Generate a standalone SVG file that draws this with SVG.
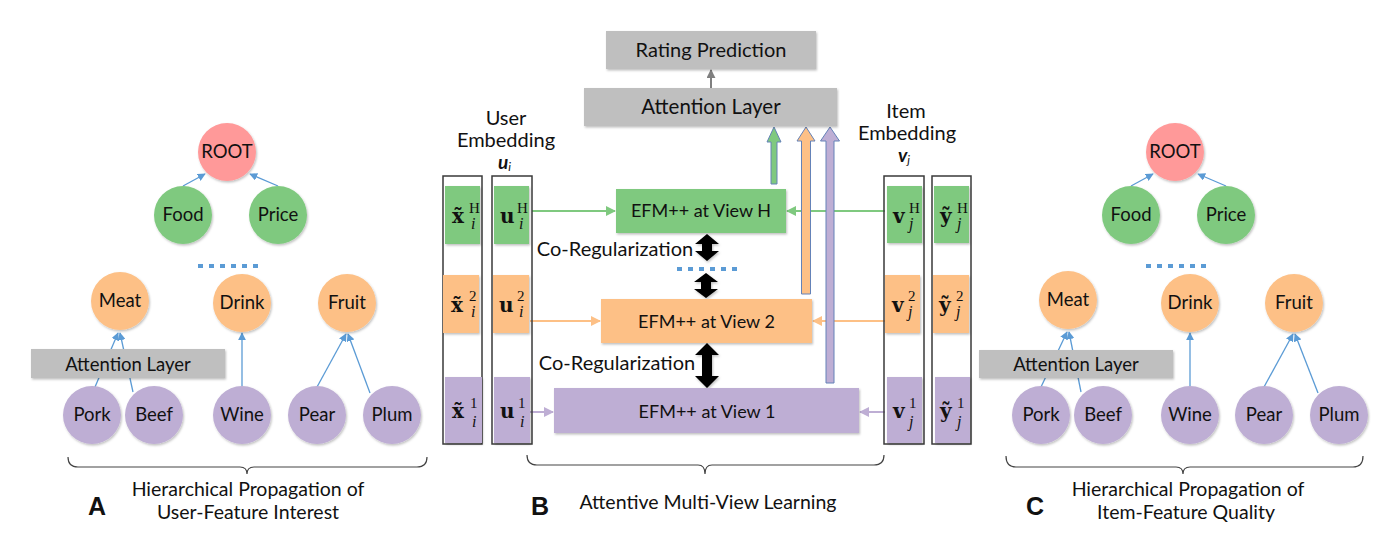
<svg xmlns="http://www.w3.org/2000/svg" width="1381" height="534" viewBox="0 0 1381 534">
<defs>
<filter id="sh" x="-20%" y="-20%" width="140%" height="140%">
<feDropShadow dx="1" dy="1.5" stdDeviation="1.2" flood-color="#000" flood-opacity="0.25"/>
</filter>
<marker id="mb" viewBox="0 0 10 10" refX="9" refY="5" markerWidth="8" markerHeight="8" markerUnits="userSpaceOnUse" orient="auto"><path d="M0,0 L10,5 L0,10 Z" fill="#5B9BD5"/></marker>
<marker id="mg" viewBox="0 0 10 10" refX="9" refY="5" markerWidth="11" markerHeight="10" markerUnits="userSpaceOnUse" orient="auto"><path d="M0,0 L10,5 L0,10 Z" fill="#7FC97F"/></marker>
<marker id="mo" viewBox="0 0 10 10" refX="9" refY="5" markerWidth="11" markerHeight="10" markerUnits="userSpaceOnUse" orient="auto"><path d="M0,0 L10,5 L0,10 Z" fill="#FDC086"/></marker>
<marker id="mp" viewBox="0 0 10 10" refX="9" refY="5" markerWidth="11" markerHeight="10" markerUnits="userSpaceOnUse" orient="auto"><path d="M0,0 L10,5 L0,10 Z" fill="#BEAED4"/></marker>
<marker id="mk" viewBox="0 0 10 10" refX="9" refY="5" markerWidth="9" markerHeight="9" markerUnits="userSpaceOnUse" orient="auto"><path d="M0,0 L10,5 L0,10 Z" fill="#7F7F7F"/></marker>
</defs>
<style>
.t{font-family:Lato,"Open Sans","Liberation Sans",sans-serif;fill:#111;text-anchor:middle}
.n{font-size:18.5px}
.cap{font-size:19.5px}
.pk{fill:#FF9999}
.gr{fill:#7FC97F}
.or{fill:#FDC086}
.pu{fill:#BEAED4}
.gy{fill:#BFBFBF}
.tree{stroke:#5B9BD5;stroke-width:1.3;fill:none;marker-end:url(#mb)}
.dots{stroke:#5B9BD5;stroke-width:4;stroke-dasharray:5 6;fill:none}
.brace{stroke:#444;stroke-width:1.2;fill:none}
.outer{fill:none;stroke:#3a3a3a;stroke-width:1.5}
.m{font-family:"DejaVu Serif","Liberation Serif",serif;font-weight:bold;font-size:20px;fill:#111}
.sup{font-family:"Liberation Serif",serif;font-size:15px;fill:#111}
.sub{font-family:"Liberation Serif",serif;font-style:italic;font-size:16px;fill:#111}
.blk{fill:#000}
</style>
<rect width="1381" height="534" fill="#fff"/>

<!-- ========== connectors ========== -->
<g id="connectors">
<line class="tree" x1="183" y1="186" x2="205" y2="174"/>
<line class="tree" x1="278" y1="186" x2="250" y2="174"/>
<line class="tree" x1="95" y1="387" x2="118" y2="333"/>
<line class="tree" x1="133" y1="392" x2="120" y2="333"/>
<line class="tree" x1="242" y1="386" x2="242" y2="333"/>
<line class="tree" x1="317" y1="387" x2="346" y2="334"/>
<line class="tree" x1="370" y1="393" x2="348" y2="334"/>
<line class="dots" x1="198" y1="266" x2="258" y2="266"/>
<line class="tree" x1="1131" y1="186" x2="1153" y2="174"/>
<line class="tree" x1="1226" y1="186" x2="1198" y2="174"/>
<line class="tree" x1="1041" y1="387" x2="1067" y2="332"/>
<line class="tree" x1="1081" y1="392" x2="1069" y2="332"/>
<line class="tree" x1="1190" y1="386" x2="1190" y2="333"/>
<line class="tree" x1="1264" y1="387" x2="1293" y2="334"/>
<line class="tree" x1="1318" y1="393" x2="1295" y2="334"/>
<line class="dots" x1="1146" y1="266" x2="1206" y2="266"/>
<line x1="711" y1="88" x2="711" y2="70" stroke="#7F7F7F" stroke-width="2" marker-end="url(#mk)"/>
<line x1="532" y1="211" x2="615" y2="211" stroke="#7FC97F" stroke-width="2" marker-end="url(#mg)"/>
<line x1="885" y1="211" x2="787" y2="211" stroke="#7FC97F" stroke-width="2" marker-end="url(#mg)"/>
<line x1="530" y1="321" x2="600" y2="321" stroke="#FDC086" stroke-width="2" marker-end="url(#mo)"/>
<line x1="885" y1="321" x2="813" y2="321" stroke="#FDC086" stroke-width="2" marker-end="url(#mo)"/>
<line x1="530" y1="412" x2="553" y2="412" stroke="#BEAED4" stroke-width="2" marker-end="url(#mp)"/>
<line x1="885" y1="412" x2="860" y2="412" stroke="#BEAED4" stroke-width="2" marker-end="url(#mp)"/>
<line class="dots" x1="677" y1="269" x2="737" y2="269"/>
<path d="M767,142 L774,127 L781,142 L777,142 L777,184 L771,184 L771,142 Z" fill="#7FC97F" stroke="#6482B8" stroke-width="1"/>
<path d="M797,141 L806,127 L815,141 L810.5,141 L810.5,294 L801.5,294 L801.5,141 Z" fill="#FDC086" stroke="#6482B8" stroke-width="1"/>
<path d="M820.5,141 L830,127 L839.5,141 L834,141 L834,383 L826,383 L826,141 Z" fill="#BEAED4" stroke="#6482B8" stroke-width="1"/>
<path class="blk" filter="url(#sh)" d="M707,234 L719,244 L712,244 L712,251 L719,251 L707,261 L695,251 L702,251 L702,244 L695,244 Z"/>
<path class="blk" filter="url(#sh)" d="M706,273 L718,282 L711,282 L711,289 L718,289 L706,298 L694,289 L701,289 L701,282 L694,282 Z"/>
<path class="blk" filter="url(#sh)" d="M707,343 L719,355 L712,355 L712,376 L719,376 L707,388 L695,376 L702,376 L702,355 L695,355 Z"/>
<path class="brace" d="M68,457 Q68,467 78,467 H240 Q247,467 247,474 Q247,467 254,467 H417 Q427,467 427,457"/>
<path class="brace" d="M527,455 Q527,465 537,465 H698 Q705,465 705,474 Q705,465 712,465 H874 Q884,465 884,455"/>
<path class="brace" d="M1006,456 Q1006,467 1016,467 H1176 Q1183,467 1183,474 Q1183,467 1190,467 H1353 Q1363,467 1363,456"/>
</g>

<!-- ========== Panel A ========== -->
<g id="A-root"><circle class="pk" cx="227" cy="152" r="29" filter="url(#sh)"/><text class="t n" x="227" y="158">ROOT</text></g>
<g id="A-food"><circle class="gr" cx="183" cy="215" r="29" filter="url(#sh)"/><text class="t n" x="183" y="221">Food</text></g>
<g id="A-price"><circle class="gr" cx="278" cy="215" r="29" filter="url(#sh)"/><text class="t n" x="278" y="221">Price</text></g>
<g id="A-meat"><circle class="or" cx="120" cy="301" r="29" filter="url(#sh)"/><text class="t n" x="120" y="307">Meat</text></g>
<g id="A-drink"><circle class="or" cx="242" cy="303" r="29" filter="url(#sh)"/><text class="t n" x="242" y="309">Drink</text></g>
<g id="A-fruit"><circle class="or" cx="347" cy="303" r="29" filter="url(#sh)"/><text class="t n" x="347" y="309">Fruit</text></g>
<g id="A-att"><rect class="gy" x="31" y="349" width="194" height="29" filter="url(#sh)"/><text class="t" x="128" y="371" font-size="18.5">Attention Layer</text></g>
<g id="A-pork"><circle class="pu" cx="92" cy="415" r="29" filter="url(#sh)"/><text class="t n" x="92" y="421">Pork</text></g>
<g id="A-beef"><circle class="pu" cx="154" cy="415" r="29" filter="url(#sh)"/><text class="t n" x="154" y="421">Beef</text></g>
<g id="A-wine"><circle class="pu" cx="242" cy="415" r="29" filter="url(#sh)"/><text class="t n" x="242" y="421">Wine</text></g>
<g id="A-pear"><circle class="pu" cx="317" cy="415" r="29" filter="url(#sh)"/><text class="t n" x="317" y="421">Pear</text></g>
<g id="A-plum"><circle class="pu" cx="392" cy="415" r="29" filter="url(#sh)"/><text class="t n" x="392" y="421">Plum</text></g>
<g id="A-caption">
<text class="t" x="97" y="515" font-size="25" font-weight="bold" style="font-family:'Liberation Sans',Arial,sans-serif">A</text>
<text class="t cap" x="248" y="496">Hierarchical Propagation of</text>
<text class="t cap" x="248" y="519">User-Feature Interest</text>
</g>

<!-- ========== Panel C ========== -->
<g id="C-root"><circle class="pk" cx="1175" cy="152" r="29" filter="url(#sh)"/><text class="t n" x="1175" y="158">ROOT</text></g>
<g id="C-food"><circle class="gr" cx="1131" cy="215" r="29" filter="url(#sh)"/><text class="t n" x="1131" y="221">Food</text></g>
<g id="C-price"><circle class="gr" cx="1226" cy="215" r="29" filter="url(#sh)"/><text class="t n" x="1226" y="221">Price</text></g>
<g id="C-meat"><circle class="or" cx="1068" cy="300" r="29" filter="url(#sh)"/><text class="t n" x="1068" y="306">Meat</text></g>
<g id="C-drink"><circle class="or" cx="1190" cy="303" r="29" filter="url(#sh)"/><text class="t n" x="1190" y="309">Drink</text></g>
<g id="C-fruit"><circle class="or" cx="1294" cy="303" r="29" filter="url(#sh)"/><text class="t n" x="1294" y="309">Fruit</text></g>
<g id="C-att"><rect class="gy" x="979" y="350" width="194" height="28" filter="url(#sh)"/><text class="t" x="1076" y="371" font-size="18.5">Attention Layer</text></g>
<g id="C-pork"><circle class="pu" cx="1041" cy="415" r="29" filter="url(#sh)"/><text class="t n" x="1041" y="421">Pork</text></g>
<g id="C-beef"><circle class="pu" cx="1103" cy="415" r="29" filter="url(#sh)"/><text class="t n" x="1103" y="421">Beef</text></g>
<g id="C-wine"><circle class="pu" cx="1190" cy="415" r="29" filter="url(#sh)"/><text class="t n" x="1190" y="421">Wine</text></g>
<g id="C-pear"><circle class="pu" cx="1264" cy="415" r="29" filter="url(#sh)"/><text class="t n" x="1264" y="421">Pear</text></g>
<g id="C-plum"><circle class="pu" cx="1339" cy="415" r="29" filter="url(#sh)"/><text class="t n" x="1339" y="421">Plum</text></g>
<g id="C-caption">
<text class="t" x="1035" y="515" font-size="25" font-weight="bold" style="font-family:'Liberation Sans',Arial,sans-serif">C</text>
<text class="t cap" x="1188" y="496">Hierarchical Propagation of</text>
<text class="t cap" x="1186" y="519">Item-Feature Quality</text>
</g>

<!-- ========== Panel B ========== -->
<g id="B-rating"><rect class="gy" x="606" y="31" width="210" height="38" filter="url(#sh)"/><text class="t" x="711" y="57" font-size="20">Rating Prediction</text></g>
<g id="B-att"><rect class="gy" x="584" y="88" width="253" height="38" filter="url(#sh)"/><text class="t" x="711" y="114" font-size="20.5">Attention Layer</text></g>
<g id="B-efmH"><rect class="gr" x="616" y="189" width="170" height="44" filter="url(#sh)"/><text class="t" x="701" y="217" font-size="18">EFM++ at View H</text></g>
<g id="B-efm2"><rect class="or" x="601" y="299" width="211" height="44" filter="url(#sh)"/><text class="t" x="706.5" y="328" font-size="18">EFM++ at View 2</text></g>
<g id="B-efm1"><rect class="pu" x="554" y="388" width="305" height="45" filter="url(#sh)"/><text class="t" x="707" y="418" font-size="18">EFM++ at View 1</text></g>
<g id="B-coreg">
<text class="t" x="615" y="256" font-size="20">Co-Regularization</text>
<text class="t" x="617" y="370" font-size="20">Co-Regularization</text>
</g>
<g id="B-user-label">
<text class="t" x="506" y="125" font-size="20">User</text>
<text class="t" x="506" y="147" font-size="20">Embedding</text>
<text x="498" y="169" font-family="Lato,'Open Sans',sans-serif" font-size="19" font-weight="bold" font-style="italic" fill="#111">u<tspan font-size="12" font-weight="normal" dy="2">i</tspan></text>
</g>
<g id="B-item-label">
<text class="t" x="906" y="118" font-size="20">Item</text>
<text class="t" x="907" y="140" font-size="20">Embedding</text>
<text x="898" y="162" font-family="Lato,'Open Sans',sans-serif" font-size="19" font-weight="bold" font-style="italic" fill="#111">v<tspan font-size="12" font-weight="normal" dy="2">j</tspan></text>
</g>

<g id="B-xtilde">
<rect class="outer" x="443" y="176" width="39" height="268"/>
<rect class="gr" x="445" y="186" width="35" height="58" filter="url(#sh)"/>
<rect class="or" x="443" y="275" width="36" height="58" filter="url(#sh)"/>
<rect class="pu" x="445" y="377" width="37" height="66" filter="url(#sh)"/>
<text class="m" x="452" y="223">x̃</text><text class="sup" x="469" y="213">H</text><text class="sub" x="471" y="229">i</text>
<text class="m" x="451" y="312">x̃</text><text class="sup" x="469" y="301">2</text><text class="sub" x="471" y="317">i</text>
<text class="m" x="452" y="418">x̃</text><text class="sup" x="470" y="408">1</text><text class="sub" x="472" y="427">i</text>
</g>
<g id="B-u">
<rect class="outer" x="492" y="176" width="40" height="268"/>
<rect class="gr" x="494" y="186" width="35" height="58" filter="url(#sh)"/>
<rect class="or" x="493" y="275" width="36" height="58" filter="url(#sh)"/>
<rect class="pu" x="494" y="377" width="36" height="66" filter="url(#sh)"/>
<text class="m" x="500" y="223">u</text><text class="sup" x="517" y="213">H</text><text class="sub" x="519" y="229">i</text>
<text class="m" x="499" y="312">u</text><text class="sup" x="517" y="301">2</text><text class="sub" x="519" y="317">i</text>
<text class="m" x="500" y="418">u</text><text class="sup" x="518" y="408">1</text><text class="sub" x="520" y="427">i</text>
</g>
<g id="B-v">
<rect class="outer" x="884" y="176" width="40" height="268"/>
<rect class="gr" x="887" y="186" width="35" height="57" filter="url(#sh)"/>
<rect class="or" x="885" y="275" width="35" height="58" filter="url(#sh)"/>
<rect class="pu" x="887" y="377" width="35" height="66" filter="url(#sh)"/>
<text class="m" x="893" y="223">v</text><text class="sup" x="909" y="213">H</text><text class="sub" x="909" y="229">j</text>
<text class="m" x="892" y="312">v</text><text class="sup" x="908" y="301">2</text><text class="sub" x="908" y="317">j</text>
<text class="m" x="893" y="418">v</text><text class="sup" x="909" y="408">1</text><text class="sub" x="909" y="427">j</text>
</g>
<g id="B-ytilde">
<rect class="outer" x="932" y="176" width="39" height="268"/>
<rect class="gr" x="934" y="186" width="35" height="57" filter="url(#sh)"/>
<rect class="or" x="933" y="275" width="36" height="58" filter="url(#sh)"/>
<rect class="pu" x="935" y="377" width="35" height="66" filter="url(#sh)"/>
<text class="m" x="940" y="223">ỹ</text><text class="sup" x="957" y="213">H</text><text class="sub" x="957" y="229">j</text>
<text class="m" x="939" y="312">ỹ</text><text class="sup" x="956" y="301">2</text><text class="sub" x="956" y="317">j</text>
<text class="m" x="940" y="418">ỹ</text><text class="sup" x="957" y="408">1</text><text class="sub" x="957" y="427">j</text>
</g>
<g id="B-caption">
<text class="t" x="540" y="515" font-size="25" font-weight="bold" style="font-family:'Liberation Sans',Arial,sans-serif">B</text>
<text class="t" x="708" y="509" font-size="19.5">Attentive Multi-View Learning</text>
</g>
</svg>
